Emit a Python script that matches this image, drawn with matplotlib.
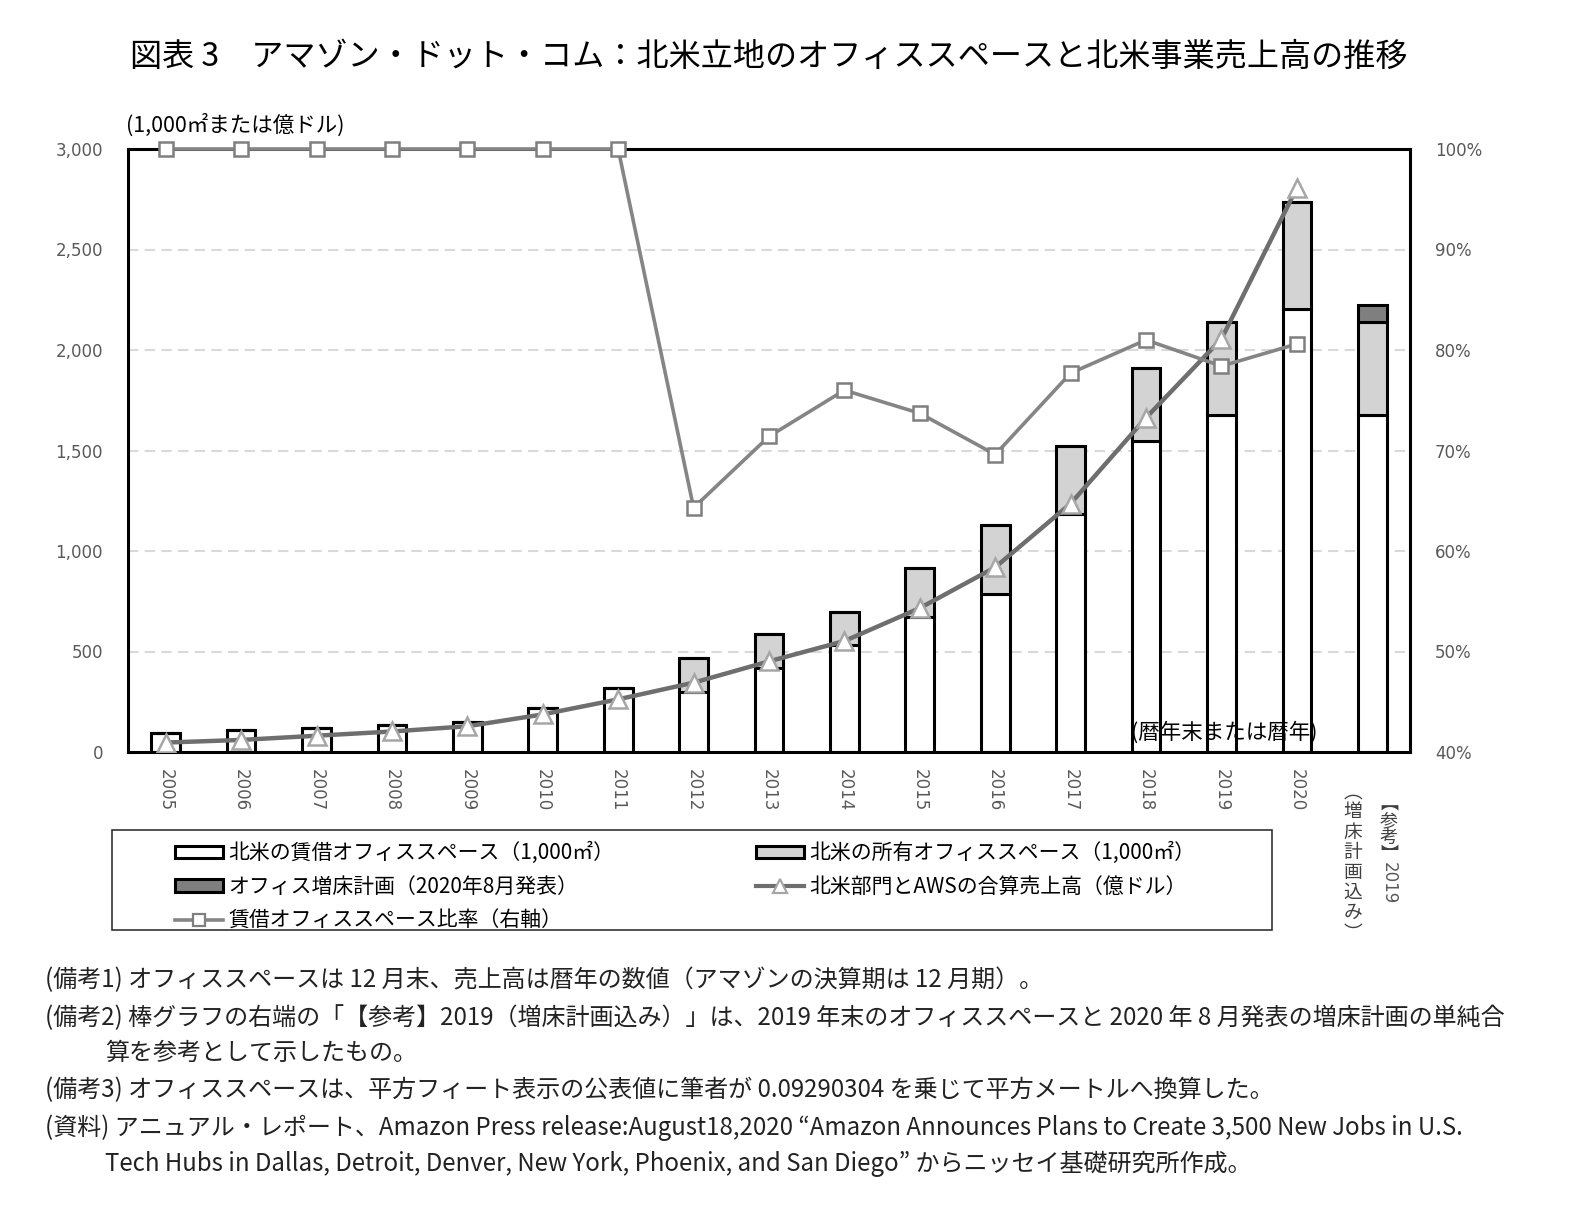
import matplotlib
matplotlib.use('Agg')
import matplotlib.pyplot as plt
from matplotlib.patches import Patch, Rectangle
from matplotlib.lines import Line2D
import numpy as np

plt.rcParams['font.family'] = ['Noto Sans CJK JP', 'DejaVu Sans']

# data
years = ['2005', '2006', '2007', '2008', '2009', '2010', '2011', '2012',
         '2013', '2014', '2015', '2016', '2017', '2018', '2019', '2020', '']
leased = [94, 111, 117, 132, 149, 221, 317, 299, 418, 531, 674, 788, 1182,
          1547, 1679, 2205, 1679]
owned = [0, 0, 0, 0, 0, 0, 0, 171, 170, 168, 243, 341, 342, 364, 460, 529, 460]
plan = [0] * 16 + [85]
revenue = [47, 60, 81, 102, 128, 187, 262, 345, 451, 552, 716, 919, 1236,
           1663, 2055, 2807]
ratio = [100, 100, 100, 100, 100, 100, 100, 64.3, 71.4, 76.0, 73.7, 69.6,
         77.7, 81.0, 78.4, 80.6]

title = '図表 3　アマゾン・ドット・コム：北米立地のオフィススペースと北米事業売上高の推移'
lbl_leased = '北米の賃借オフィススペース（1,000㎡）'
lbl_owned = '北米の所有オフィススペース（1,000㎡）'
lbl_plan = 'オフィス増床計画（2020年8月発表）'
lbl_rev = '北米部門とAWSの合算売上高（億ドル）'
lbl_ratio = '賃借オフィススペース比率（右軸）'

notes = [
    (45, 980, '(備考1) オフィススペースは 12 月末、売上高は暦年の数値（アマゾンの決算期は 12 月期）。'),
    (45, 1018, '(備考2) 棒グラフの右端の「【参考】2019（増床計画込み）」は、2019 年末のオフィススペースと 2020 年 8 月発表の増床計画の単純合'),
    (105, 1053, '算を参考として示したもの。'),
    (45, 1090, '(備考3) オフィススペースは、平方フィート表示の公表値に筆者が 0.09290304 を乗じて平方メートルへ換算した。'),
    (45, 1128, '(資料) アニュアル・レポート、Amazon Press release:August18,2020 “Amazon Announces Plans to Create 3,500 New Jobs in U.S.'),
    (105, 1164, 'Tech Hubs in Dallas, Detroit, Denver, New York, Phoenix, and San Diego” からニッセイ基礎研究所作成。'),
]

W, H = 1575, 1218
fig = plt.figure(figsize=(W / 100, H / 100), dpi=100)
ax = fig.add_axes([128 / W, 1 - 752 / H, 1282 / W, 603 / H])

x = np.arange(len(years))
bw = 0.38
edge = dict(edgecolor='black', linewidth=2.2)
total1 = np.array(leased) + np.array(owned)
ax.bar(x, leased, bw, color='white', zorder=2, **edge)
ax.bar(x, owned, bw, bottom=leased, color='#d3d3d3', zorder=2, **edge)
ax.bar(x, plan, bw, bottom=total1, color='#7f7f7f', zorder=2, **edge)

ax.plot(x[:len(revenue)], revenue, color='#6e6e6e', lw=3.2, marker='^',
        ms=13, mfc='white', mec='#a6a6a6', mew=1.8, zorder=4)

ax.set_xlim(-0.5, len(years) - 0.5)
ax.set_ylim(0, 3000)
ax.set_yticks(range(0, 3001, 500))
ax.set_yticklabels([f'{v:,}' for v in range(0, 3001, 500)],
                   fontfamily='DejaVu Sans', fontsize=12, color='#595959')
ax.set_xticks(x)
ax.set_xticklabels(years, rotation=-90, fontfamily='DejaVu Sans',
                   fontsize=12, color='#595959')
ax.tick_params(axis='both', length=0)
ax.tick_params(axis='y', pad=18)
ax.tick_params(axis='x', pad=12)
for v in range(500, 3000, 500):
    ax.axhline(v, color='#d9d9d9', lw=1.5, ls=(0, (5, 3)), zorder=0)
for s in ax.spines.values():
    s.set_linewidth(2.2)
    s.set_color('black')

ax2 = ax.twinx()
ax2.plot(x[:len(ratio)], ratio, color='#858585', lw=2.6, marker='s',
         ms=9.5, mfc='white', mec='#7f7f7f', mew=1.8, zorder=5, clip_on=False)
ax2.set_ylim(40, 100)
ax2.set_yticks(range(40, 101, 10))
ax2.set_yticklabels([f'{v}%' for v in range(40, 101, 10)],
                    fontfamily='DejaVu Sans', fontsize=12, color='#595959')
ax2.tick_params(axis='y', length=0, pad=18)
for s in ax2.spines.values():
    s.set_visible(False)

# unit label and period note
fig.text(126 / W, 1 - 125 / H, '(1,000㎡または億ドル)', fontsize=15.5,
         ha='left', va='center')
ax.text(0.855, 0.032, '(暦年末または暦年)', transform=ax.transAxes,
        fontsize=15.5, ha='center', va='center', zorder=6)

# vertical label of the reference bar
ref = len(years) - 1
ax.annotate('\n'.join('︻参考︼'), xy=(ref, 0), xytext=(12, -31),
            textcoords='offset points', ha='center', va='top', fontsize=13,
            linespacing=0.92, color='#404040', annotation_clip=False)
ax.annotate('2019', xy=(ref, 0), xytext=(12, -79), textcoords='offset points',
            rotation=-90, ha='center', va='top', fontsize=12,
            fontfamily='DejaVu Sans', color='#595959', annotation_clip=False)
ax.annotate('\n'.join('︵増床計画込み︶'), xy=(ref, 0), xytext=(-14, -21),
            textcoords='offset points', ha='center', va='top', fontsize=13.5,
            linespacing=0.95, color='#404040', annotation_clip=False)

fig.text(130 / W, 1 - 57 / H, title, fontsize=23.1, ha='left', va='center')

# legend
handles = [
    Patch(facecolor='white', **edge),
    Patch(facecolor='#7f7f7f', **edge),
    Line2D([], [], color='#858585', lw=2.6, marker='s', ms=8, mfc='white',
           mec='#7f7f7f', mew=1.6),
    Patch(facecolor='#d3d3d3', **edge),
    Line2D([], [], color='#6e6e6e', lw=3.0, marker='^', ms=10, mfc='white',
           mec='#a6a6a6', mew=1.6),
]
labels = [lbl_leased, lbl_plan, lbl_ratio, lbl_owned, lbl_rev]
fig.legend(handles, labels, ncol=2, loc='center left',
           bbox_to_anchor=(175 / W, 1 - 887 / H), frameon=False,
           fontsize=15, handlelength=2.3, handleheight=0.55,
           handletextpad=0.25, columnspacing=6.8, labelspacing=0.57,
           borderpad=0, borderaxespad=0)
fig.patches.append(Rectangle((112 / W, 1 - 930 / H), 1160 / W, 100 / H,
                             transform=fig.transFigure, fill=False,
                             edgecolor='#333333', lw=1.2))

for nx, ny, t in notes:
    fig.text(nx / W, 1 - ny / H, t, fontsize=17.3, ha='left', va='center',
             color='#222222')

fig.savefig('out.png', dpi=100)
